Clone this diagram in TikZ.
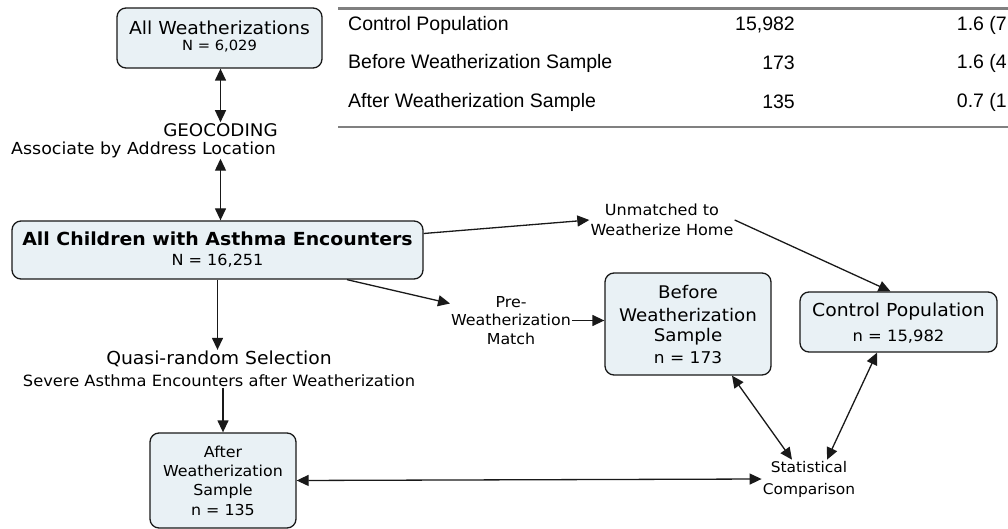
\documentclass[tikz,border=0pt]{standalone}
\usepackage{fontspec}
\setmainfont{DejaVu Sans}[FakeStretch=1.05]
\newfontfamily\tabfont{Liberation Sans}
\usetikzlibrary{arrows.meta,calc}
\definecolor{boxfill}{RGB}{233,241,245}
\definecolor{edge}{RGB}{25,25,25}
\definecolor{rulegray}{RGB}{128,128,128}
\newcommand{\fs}[1]{\fontsize{#1}{#1}\selectfont}
\begin{document}
\begin{tikzpicture}[x=1pt,y=-1pt,
  box/.style={draw=edge, line width=1.3pt, fill=boxfill, rounded corners=9pt, inner sep=0pt},
  lbl/.style={inner sep=1pt, align=center, text=black},
  conn/.style={draw=edge, line width=1.3pt, -{Triangle[length=12pt,width=11pt]}},
  dconn/.style={draw=edge, line width=1.3pt, {Triangle[length=12pt,width=11pt]}-{Triangle[length=12pt,width=11pt]}},
  tab/.style={inner sep=0pt, font=\tabfont\fs{19.5}},
  ]
\useasboundingbox (0,0) rectangle (1008,529);

% ---- table overlay ----
\draw[rulegray, line width=3pt] (338,9) -- (1008,9);
\draw[rulegray, line width=1.5pt] (338,127) -- (1008,127);
\node[tab, anchor=west] (t1a) at (348,25) {Control Population};
\node[tab, anchor=east] (t1b) at (795,25) {15,982};
\node[tab, anchor=east] (t1c) at (1007,25) {1.6 (7};
\node[tab, anchor=west] (t2a) at (348,63) {Before Weatherization Sample};
\node[tab, anchor=east] (t2b) at (795,63) {173};
\node[tab, anchor=east] (t2c) at (1007,63) {1.6 (4};
\node[tab, anchor=west] (t3a) at (348,102) {After Weatherization Sample};
\node[tab, anchor=east] (t3b) at (795,102) {135};
\node[tab, anchor=east] (t3c) at (1007,102) {0.7 (1};

% ---- boxes ----
\node[box, minimum width=205pt, minimum height=60pt] (aw) at (219.5,38) {};
\node[lbl] (awt) at (219.5,28) {\fs{17.9}All Weatherizations};
\node[lbl] (awn) at (219.5,46) {\fs{14}N = 6,029};

\node[box, minimum width=411pt, minimum height=58pt] (ac) at (217.5,250) {};
\node[lbl] (act) at (217.5,239) {\fs{18}\bfseries All Children with Asthma Encounters};
\node[lbl] (acn) at (217.5,261) {\fs{15.3}N = 16,251};

\node[box, minimum width=146pt, minimum height=95pt] (af) at (223,480.5) {};
\node[lbl] (af1) at (223,452) {\fs{15.1}After};
\node[lbl] (af2) at (223,471) {\fs{15.1}Weatherization};
\node[lbl] (af3) at (223,491) {\fs{15.1}Sample};
\node[lbl] (af4) at (223,510) {\fs{15.1}n = 135};

\node[box, minimum width=166pt, minimum height=102pt] (bef) at (688,324) {};
\node[lbl] (bf1) at (688,292) {\fs{17.4}Before};
\node[lbl] (bf2) at (688,315) {\fs{17.4}Weatherization};
\node[lbl] (bf3) at (688,337) {\fs{17.4}Sample};
\node[lbl] (bf4) at (688,358) {\fs{16.2}n = 173};

\node[box, minimum width=197pt, minimum height=60pt] (ctrl) at (898.5,322) {};
\node[lbl] (ct1) at (898.5,312) {\fs{17.9}Control Population};
\node[lbl] (ct2) at (898.5,337) {\fs{15.6}n = 15,982};

% ---- linking phrases ----
\node[lbl] (geo1) at (220.5,130) {\fs{17.4}GEOCODING};
\node[lbl] (geo2) at (143.5,149.5) {\fs{16.6}Associate by Address Location};
\node[lbl] (qs1) at (219,359) {\fs{17.9}Quasi-random Selection};
\node[lbl] (qs2) at (219,380.5) {\fs{15.5}Severe Asthma Encounters after Weatherization};
\node[lbl, font={\fontsize{15.3}{20}\selectfont}] (unm) at (662,220) {Unmatched to\\Weatherize Home};
\node[lbl, font={\fontsize{15.1}{18.5}\selectfont}] (pre) at (511,320.5) {Pre-\\Weatherization\\Match};
\node[lbl, font={\fontsize{14.7}{22}\selectfont}] (st) at (809,479) {Statistical\\Comparison};

% ---- connectors ----
\draw[dconn] (aw.south -| geo1) -- (geo1.north);
\draw[dconn] (geo2.south -| geo1) -- (ac.north -| geo1);
\draw[conn] (ac.south) -- (qs1.north -| ac.south);
\draw[conn] (qs2.south -| af) -- (af.north);
\draw[dconn] (af.east) -- (st.west);
\draw[conn] ([yshift=16.5pt]ac.east) -- (unm.west);
\draw[conn] (unm.east) -- ([xshift=-8pt]ctrl.north);
\draw[conn] ([xshift=129.5pt]ac.south) -- ([yshift=17pt]pre.west);
\draw[conn] (pre.east) -- (pre.east -| bef.west);
\draw[dconn] ([xshift=44pt]bef.south) -- ([xshift=-17pt]st.north);
\draw[dconn] ([xshift=-21.5pt]ctrl.south) -- ([xshift=18pt]st.north);
\end{tikzpicture}
\end{document}
